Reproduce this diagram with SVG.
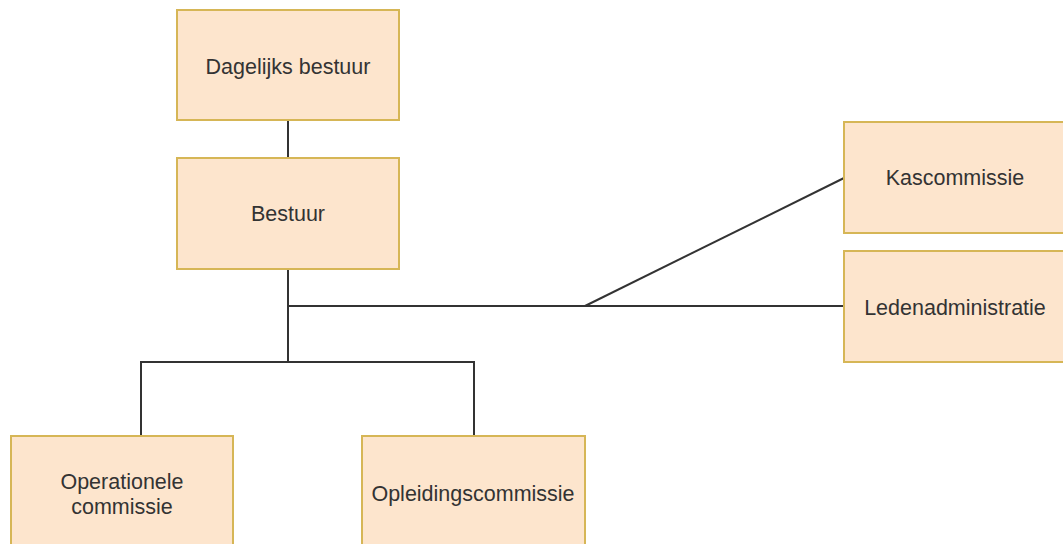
<svg xmlns="http://www.w3.org/2000/svg" width="1063" height="544" viewBox="0 0 1063 544">
<style>
.box{fill:#fde5cd;stroke:#d6b656;stroke-width:2}
.lbl{font-family:"Liberation Sans",Arial,sans-serif;font-size:21.5px;fill:#333333;text-anchor:middle;dominant-baseline:central}
.edge{fill:none;stroke:#333333;stroke-width:2}
</style>
<rect width="1063" height="544" fill="#ffffff"/>
<g id="connectors">
<line class="edge" x1="288" y1="120" x2="288" y2="158"/>
<line class="edge" x1="288" y1="269" x2="288" y2="362"/>
<line class="edge" x1="288" y1="306" x2="844" y2="306"/>
<line class="edge" x1="585" y1="306" x2="844" y2="178"/>
<polyline class="edge" points="141,436 141,362 474,362 474,436"/>
</g>
<g id="dagelijks-bestuur">
<rect class="box" x="177" y="10" width="222" height="110"/>
<text class="lbl" x="288" y="67">Dagelijks bestuur</text>
</g>
<g id="bestuur">
<rect class="box" x="177" y="158" width="222" height="111"/>
<text class="lbl" x="288" y="214">Bestuur</text>
</g>
<g id="kascommissie">
<rect class="box" x="844" y="122" width="222" height="111"/>
<text class="lbl" x="955" y="178">Kascommissie</text>
</g>
<g id="ledenadministratie">
<rect class="box" x="844" y="251" width="222" height="111"/>
<text class="lbl" x="955" y="308">Ledenadministratie</text>
</g>
<g id="operationele-commissie">
<rect class="box" x="11" y="436" width="222" height="116"/>
<text class="lbl" x="122" y="482">Operationele</text>
<text class="lbl" x="122" y="507">commissie</text>
</g>
<g id="opleidingscommissie">
<rect class="box" x="362" y="436" width="223" height="116"/>
<text class="lbl" x="473" y="494">Opleidingscommissie</text>
</g>
</svg>
